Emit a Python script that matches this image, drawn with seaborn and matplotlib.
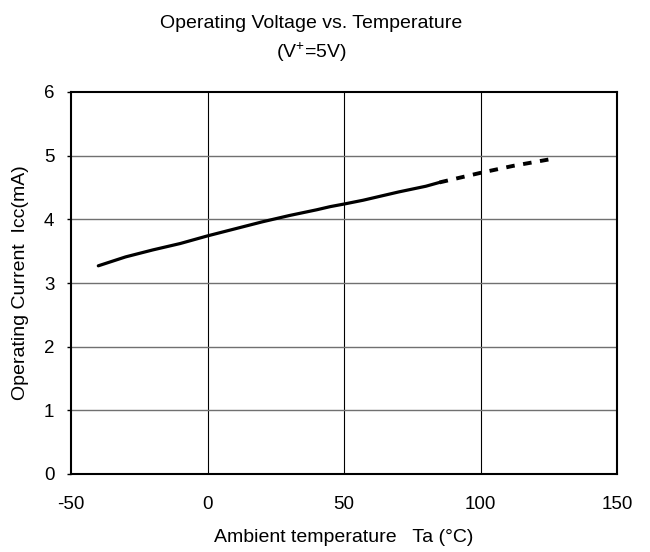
import numpy as np
import pandas as pd
import matplotlib
matplotlib.use("Agg")
import matplotlib.pyplot as plt
import seaborn as sns

# Measured range (solid) and extrapolated range (dashed)
temp_measured = [-40, -30, -20, -15, -10, 0, 10, 20, 30, 40, 45, 50, 57, 65, 70, 80, 85]
icc_measured = [3.27, 3.41, 3.52, 3.57, 3.62, 3.74, 3.85, 3.96, 4.06, 4.15, 4.20, 4.24, 4.30, 4.38, 4.43, 4.52, 4.58]
temp_extra = [85, 100, 112, 125]
icc_extra = [4.58, 4.73, 4.84, 4.94]

x_ticks = [-50, 0, 50, 100, 150]
y_ticks = [0, 1, 2, 3, 4, 5, 6]

sns.set_style("white")
plt.rcParams['font.family'] = ['Liberation Sans', 'DejaVu Sans']
plt.rcParams['mathtext.fontset'] = 'custom'
plt.rcParams['mathtext.rm'] = 'Liberation Sans'
plt.rcParams['axes.unicode_minus'] = False
for key in ['text.color', 'axes.labelcolor', 'xtick.color', 'ytick.color']:
    plt.rcParams[key] = 'black'

df_meas = pd.DataFrame({'Ta': temp_measured, 'Icc': icc_measured})
df_extra = pd.DataFrame({'Ta': temp_extra, 'Icc': icc_extra})

fig = plt.figure(figsize=(6.5, 5.52), dpi=100)
ax = fig.add_axes([71 / 650, 1 - 474 / 552, 546 / 650, 382 / 552])

# Grid: vertical black, horizontal gray
for xv in x_ticks[1:-1]:
    ax.axvline(xv, color='black', lw=0.8, zorder=1)
for yv in y_ticks[1:-1]:
    ax.axhline(yv, color='#707070', lw=1.0, zorder=1)

sns.lineplot(data=df_meas, x='Ta', y='Icc', ax=ax, color='black', lw=2.3, zorder=3)
sns.lineplot(data=df_extra, x='Ta', y='Icc', ax=ax, color='black', lw=2.8,
             linestyle=(0, (2.2, 2.2)), zorder=3)

ax.set_xlim(-50, 150)
ax.set_ylim(0, 6)
ax.set_xticks(x_ticks)
ax.set_yticks(y_ticks)
ax.tick_params(axis='x', length=0, pad=16, labelsize=13.5)
ax.tick_params(axis='y', length=3, width=1, direction='out', pad=9, labelsize=13.5, left=True)
for s in ax.spines.values():
    s.set_color('black')
    s.set_linewidth(1.5)

ax.set_xlabel('')
ax.set_ylabel('')
fig.text(344 / 650, 1 - 538 / 552, 'Ambient temperature   Ta (\u00b0C)', ha='center', va='center', fontsize=14)
fig.text(21 / 650, 1 - 283 / 552, 'Operating Current  Icc(mA)', ha='center', va='center',
         rotation=90, fontsize=14)
fig.text(311 / 650, 1 - 23 / 552, 'Operating Voltage vs. Temperature', ha='center', va='center', fontsize=14)
fig.text(311 / 650, 1 - 52 / 552, r'(V$^{+}$=5V)', ha='center', va='center', fontsize=14)

fig.savefig('out.png', dpi=100)
